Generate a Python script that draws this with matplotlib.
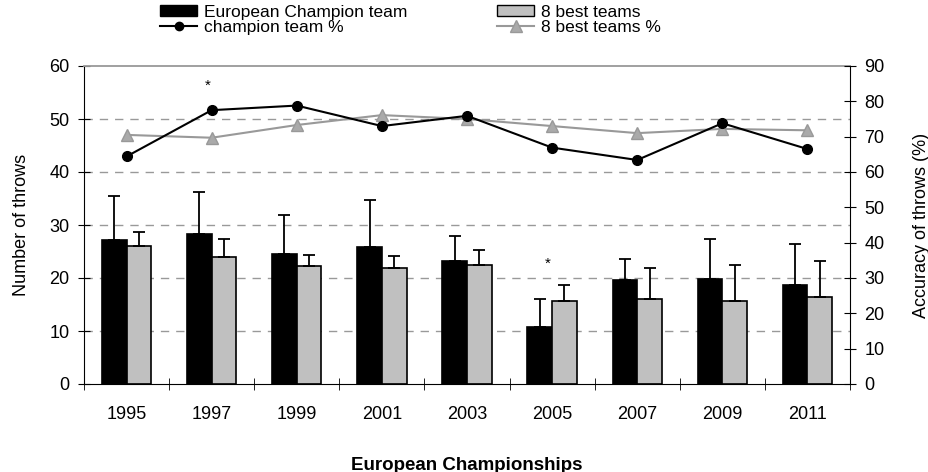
import matplotlib
matplotlib.use("Agg")
import matplotlib.pyplot as plt
import numpy as np
from matplotlib.patches import Patch
from matplotlib.lines import Line2D

plt.rcParams['font.family'] = ['Liberation Sans', 'DejaVu Sans']

## Data
years = ["1995", "1997", "1999", "2001", "2003", "2005", "2007", "2009", "2011"]
champ_throws = [27.2, 28.3, 24.5, 25.8, 23.3, 10.8, 19.6, 19.8, 18.7]
champ_sd = [8.3, 8.0, 7.3, 8.9, 4.7, 5.2, 4.0, 7.6, 7.8]
best_throws = [26.0, 23.9, 22.3, 21.9, 22.5, 15.7, 16.0, 15.7, 16.5]
best_sd = [2.7, 3.5, 2.1, 2.3, 2.7, 3.0, 5.9, 6.8, 6.8]
champ_acc = [64.4, 77.5, 78.8, 73.0, 75.9, 66.9, 63.4, 73.8, 66.5]
best_acc = [70.5, 69.7, 73.3, 76.1, 75.0, 73.0, 71.0, 72.2, 71.8]
star_idx = [1, 5]
star_y = [56.3, 22.6]

x = np.arange(len(years))
w = 0.29

fig = plt.figure(figsize=(9.29, 4.72), dpi=100)
ax = fig.add_axes([84/929, 1 - 384/472, (850-84)/929, (384-66)/472])

# dashed grid
for g in [10, 20, 30, 40, 50]:
    ax.axhline(g, color="#999999", lw=1.0, ls=(0, (6, 5)), zorder=0)

ax.bar(x - w/2, champ_throws, w, color="black", edgecolor="black", lw=1.2, zorder=2)
ax.bar(x + w/2, best_throws, w, color="#c0c0c0", edgecolor="black", lw=1.2, zorder=2)
ax.errorbar(x - w/2, champ_throws, yerr=[np.zeros(len(x)), champ_sd], fmt="none",
            ecolor="black", elinewidth=1.3, capsize=4, capthick=1.3, zorder=3)
ax.errorbar(x + w/2, best_throws, yerr=[np.zeros(len(x)), best_sd], fmt="none",
            ecolor="black", elinewidth=1.3, capsize=4, capthick=1.3, zorder=3)
for i, sy in zip(star_idx, star_y):
    ax.text(x[i] - 0.05, sy, "*", ha="center", va="center", fontsize=11)

ax.set_xlim(-0.5, len(x) - 0.5)
ax.set_ylim(0, 60)
ax.set_yticks(np.arange(0, 61, 10))
ax.set_xticks(x)
ax.set_xticklabels(years)
ax.set_xticks(np.arange(-0.5, len(x), 1), minor=True)
ax.tick_params(axis="x", which="major", length=0, pad=16, labelsize=13)
ax.tick_params(axis="x", which="minor", direction="inout", length=9)
ax.tick_params(axis="y", direction="inout", length=9, pad=6, labelsize=13)
ax.spines["top"].set_color("#999999")
ax.spines["top"].set_linewidth(1.3)
ax.spines["right"].set_visible(False)
ax.set_ylabel("Number of throws", fontsize=13, labelpad=14)
ax.set_xlabel("European Championships", fontsize=13.5, fontweight="bold", labelpad=24)

ax2 = ax.twinx()
ax2.set_ylim(0, 90)
ax2.set_yticks(np.arange(0, 91, 10))
ax2.plot(x, best_acc, color="#999999", lw=1.5, marker="^", ms=9,
         mfc="#aaaaaa", mec="#999999", zorder=4)
ax2.plot(x, champ_acc, color="black", lw=1.5, marker="o", ms=7, zorder=5)
ax2.tick_params(axis="y", direction="inout", length=9, pad=6, labelsize=13)
ax2.spines["top"].set_visible(False)
ax2.spines["left"].set_visible(False)
ax2.spines["bottom"].set_visible(False)
ax2.set_ylabel("Accuracy of throws (%)", fontsize=13, labelpad=20)

handles = [Patch(facecolor="black", edgecolor="black"),
           Line2D([], [], color="black", lw=1.5, marker="o", ms=6),
           Patch(facecolor="#c0c0c0", edgecolor="black"),
           Line2D([], [], color="#999999", lw=1.5, marker="^", ms=8, mfc="#aaaaaa", mec="#999999")]
labels = ["European Champion team", "champion team %", "8 best teams", "8 best teams %"]
fig.legend(handles, labels, ncol=2, loc="upper left", bbox_to_anchor=(150/929, 1.012),
           frameon=False, fontsize=12.5, labelspacing=0.0, handlelength=2.1,
           handleheight=0.6, handletextpad=0.4, columnspacing=5.2, borderpad=0.1)

fig.savefig("out.png", dpi=100)
